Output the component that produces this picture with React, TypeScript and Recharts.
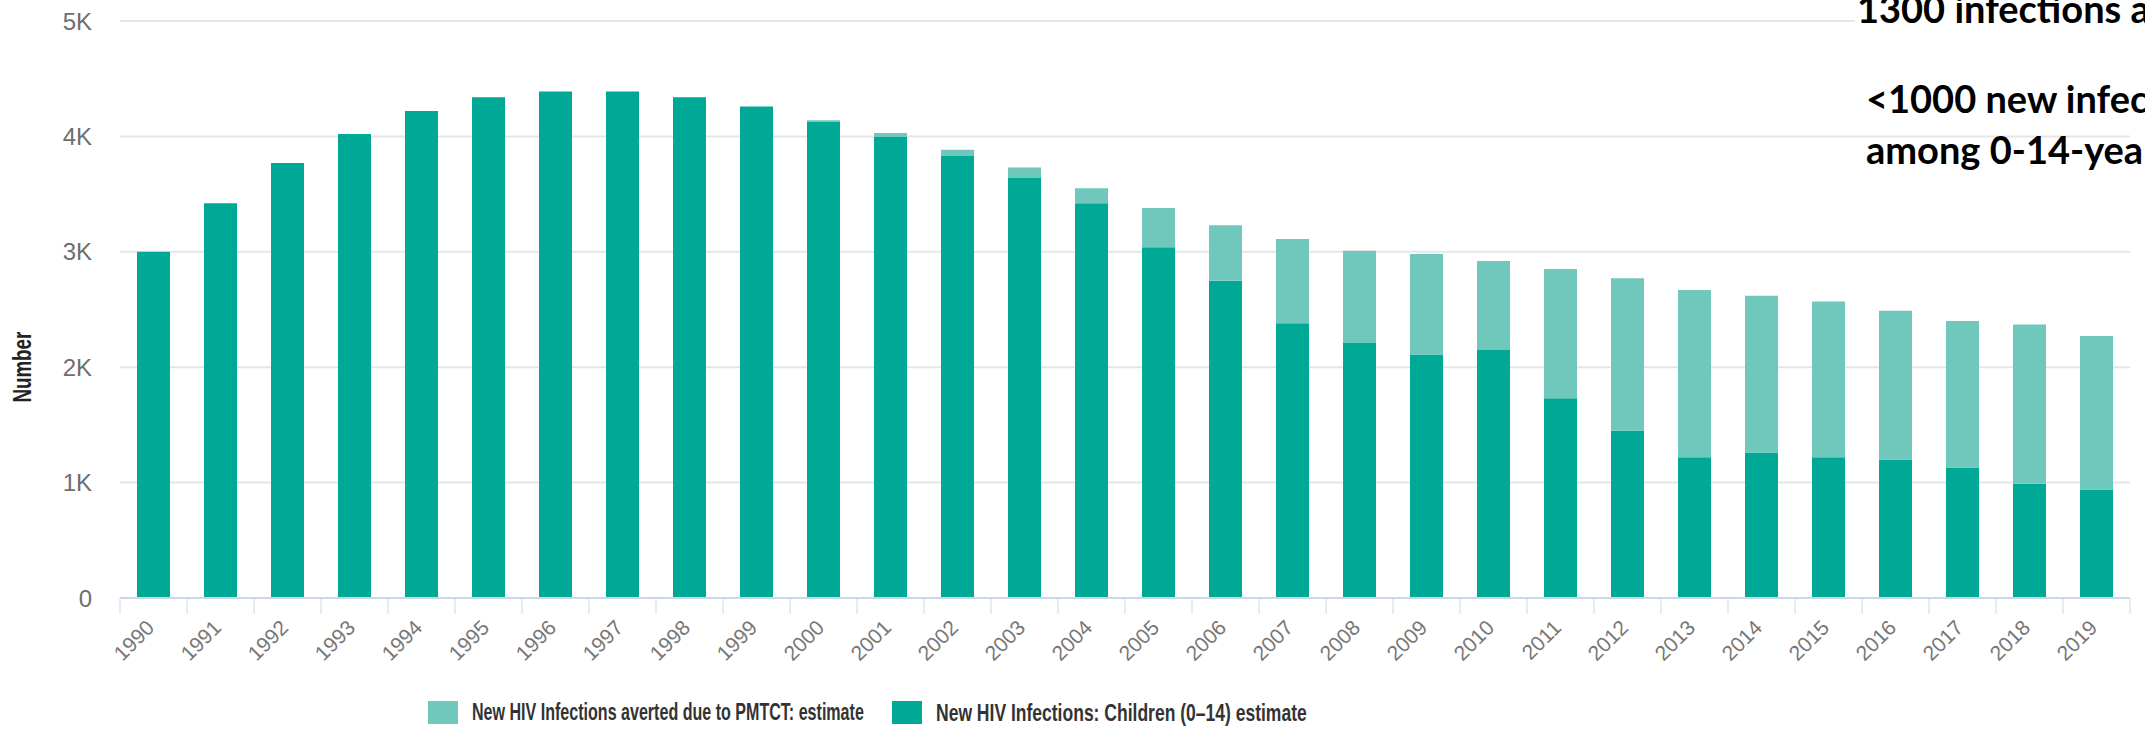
import React from 'react';
import { BarChart, Bar, XAxis, YAxis, CartesianGrid } from 'recharts';

// values
const years = [
  '1990', '1991', '1992', '1993', '1994', '1995', '1996', '1997', '1998', '1999',
  '2000', '2001', '2002', '2003', '2004', '2005', '2006', '2007', '2008', '2009',
  '2010', '2011', '2012', '2013', '2014', '2015', '2016', '2017', '2018', '2019',
];
const childrenNew = [
  3000, 3420, 3770, 4020, 4220, 4340, 4390, 4390, 4340, 4260,
  4130, 4000, 3830, 3640, 3420, 3040, 2750, 2380, 2210, 2110,
  2150, 1730, 1450, 1220, 1260, 1220, 1200, 1130, 990, 940,
];
const averted = [
  0, 0, 0, 0, 0, 0, 0, 0, 0, 0,
  10, 30, 55, 90, 130, 340, 480, 730, 800, 870,
  770, 1120, 1320, 1450, 1360, 1350, 1290, 1270, 1380, 1330,
];
const yTicks = [0, 1000, 2000, 3000, 4000, 5000];
const seriesNames = {
  averted: 'New HIV Infections averted due to PMTCT: estimate',
  children: 'New HIV Infections: Children (0–14) estimate',
};
const noteLines = ['1300 infections averted', '<1000 new infections', 'among 0-14-year-olds'];

const data = years.map((year, i) => ({
  year,
  children: childrenNew[i],
  averted: averted[i],
}));

const W = 2145;
const H = 733;
const MARGIN = { top: 21, right: 15, bottom: 57, left: 20 };
const Y_AXIS_W = 100;
const X_AXIS_H = 78;
const PLOT_LEFT = MARGIN.left + Y_AXIS_W;
const PLOT_RIGHT = W - MARGIN.right;
const BAND = (PLOT_RIGHT - PLOT_LEFT) / years.length;

const DARK = '#00a896';
const LIGHT = '#70c8bc';
const AXIS = '#ccd6eb';
const SANS = '"Liberation Sans", Arial, sans-serif';

const YearTick = (props: any) => {
  const { x, y, payload, index } = props;
  const left = x - BAND / 2;
  const i = index ?? payload.index;
  const tx = x + 2;
  const ty = y + 31;
  return (
    <g>
      <line x1={left} x2={left} y1={y} y2={y + 16} stroke={AXIS} />
      {i === years.length - 1 && (
        <line x1={x + BAND / 2} x2={x + BAND / 2} y1={y} y2={y + 16} stroke={AXIS} />
      )}
      <text
        x={tx}
        y={ty}
        transform={`rotate(-45 ${tx} ${ty})`}
        textAnchor="end"
        fontSize={21}
        fontFamily={SANS}
        fill="#777"
      >
        {payload.value}
      </text>
    </g>
  );
};

// condensed bold look: squeeze a regular bold face horizontally
const NumberLabel = (props: any) => {
  const { viewBox } = props;
  const x = viewBox.x + 3;
  const y = viewBox.y + viewBox.height * 0.6;
  return (
    <g transform={`translate(${x} ${y}) rotate(-90) scale(0.75 1)`}>
      <text
        x={0}
        y={0}
        textAnchor="middle"
        dominantBaseline="central"
        fontSize={25}
        fontWeight="bold"
        fontFamily={SANS}
        fill="#222"
      >
        Number
      </text>
    </g>
  );
};

const legendItems = [
  { key: 'averted' as const, color: LIGHT, x: 428, squeeze: 0.67 },
  { key: 'children' as const, color: DARK, x: 892, squeeze: 0.73 },
];
const LEGEND_Y = 712;

export default function App() {
  return (
    <div
      style={{
        position: 'absolute',
        left: 0,
        top: 0,
        width: W,
        height: H,
        overflow: 'hidden',
        background: '#fff',
        fontFamily: SANS,
      }}
    >
      <BarChart width={W} height={H} data={data} margin={MARGIN}>
        <CartesianGrid vertical={false} stroke="#e6e6e6" strokeWidth={2} />
        <XAxis
          dataKey="year"
          interval={0}
          height={X_AXIS_H}
          tickSize={0}
          tickMargin={0}
          axisLine={{ stroke: AXIS, strokeWidth: 2 }}
          tickLine={false}
          tick={<YearTick />}
        />
        <YAxis
          width={Y_AXIS_W}
          domain={[0, 5000]}
          ticks={yTicks}
          axisLine={false}
          tickLine={false}
          tickSize={0}
          tickMargin={28}
          tick={{ fill: '#6e6e6e', fontSize: 24, fontFamily: SANS }}
          tickFormatter={(v: number) => (v === 0 ? '0' : `${v / 1000}K`)}
          label={<NumberLabel />}
        />
        <Bar dataKey="children" stackId="a" fill={DARK} barSize={33} isAnimationActive={false} />
        <Bar dataKey="averted" stackId="a" fill={LIGHT} barSize={33} isAnimationActive={false} />
      </BarChart>

      <svg
        width={W}
        height={H}
        style={{ position: 'absolute', left: 0, top: 0, pointerEvents: 'none' }}
      >
        {/* legend */}
        <g fontFamily={SANS} fontWeight="bold" fontSize={24} fill="#333">
          {legendItems.map((item) => (
            <g key={item.key}>
              <rect x={item.x} y={LEGEND_Y - 11} width={30} height={23} fill={item.color} />
              <g transform={`translate(${item.x + 44} ${LEGEND_Y}) scale(${item.squeeze} 1)`}>
                <text x={0} y={0} dominantBaseline="central">
                  {seriesNames[item.key]}
                </text>
              </g>
            </g>
          ))}
        </g>

        {/* annotation pasted over the chart, clipped by the right edge */}
        <rect x={1855} y={0} width={W - 1855} height={34} fill="#fff" />
        <g fontFamily="Lato, 'Open Sans', sans-serif" fontWeight="bold" fontSize={38} fill="#000">
          <text x={1857} y={23}>{noteLines[0]}</text>
          <text x={1866} y={113}>{noteLines[1]}</text>
          <text x={1866} y={164}>{noteLines[2]}</text>
        </g>
      </svg>
    </div>
  );
}
